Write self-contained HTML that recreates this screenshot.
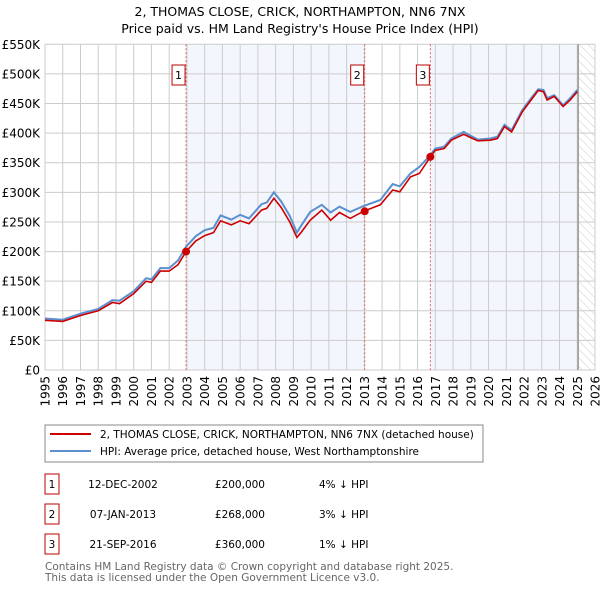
<!DOCTYPE html>
<html><head><meta charset="utf-8"><style>
body{margin:0;background:#fff;font-family:"DejaVu Sans","Liberation Sans",sans-serif;}
svg text{font-family:"DejaVu Sans","Liberation Sans",sans-serif;}
</style></head><body>
<svg id="c" width="600" height="590" xmlns="http://www.w3.org/2000/svg">
<defs><pattern id="hatch" width="6" height="6" patternUnits="userSpaceOnUse" patternTransform="rotate(-45)"><line x1="0" y1="0" x2="0" y2="6" stroke="#ccc" stroke-width="1"/></pattern></defs>
<text x="300" y="16" text-anchor="middle" font-size="12.5">2, THOMAS CLOSE, CRICK, NORTHAMPTON, NN6 7NX</text>
<text x="300" y="33" text-anchor="middle" font-size="12.5">Price paid vs. HM Land Registry's House Price Index (HPI)</text>
<g id="plot"></g>
<rect x="45" y="425" width="438" height="37" fill="#fff" stroke="#888"/>
<line x1="50" y1="434" x2="91" y2="434" stroke="#cc0000" stroke-width="2"/>
<text x="100" y="438" font-size="10.5">2, THOMAS CLOSE, CRICK, NORTHAMPTON, NN6 7NX (detached house)</text>
<line x1="50" y1="451" x2="91" y2="451" stroke="#5b8fd0" stroke-width="2"/>
<text x="100" y="455" font-size="10.5">HPI: Average price, detached house, West Northamptonshire</text>
<g id="tbl" font-size="10.5"></g>
<text x="45" y="570" font-size="10.5" fill="#666">Contains HM Land Registry data © Crown copyright and database right 2025.</text>
<text x="45" y="581" font-size="10.5" fill="#666">This data is licensed under the Open Government Licence v3.0.</text>
</svg>
<script>
const years=[1995,1996,1997,1998,1998.8,1999.2,2000,2000.7,2001,2001.5,2002,2002.5,2002.95,2003.5,2004,2004.5,2004.9,2005.5,2006,2006.5,2007.2,2007.5,2007.9,2008.3,2008.8,2009.2,2009.4,2009.95,2010.6,2011.1,2011.6,2012.2,2012.95,2013.9,2014.6,2015.0,2015.6,2016.1,2016.72,2017.0,2017.5,2017.9,2018.6,2019.1,2019.4,2020.1,2020.5,2020.9,2021.3,2021.9,2022.4,2022.8,2023.1,2023.3,2023.7,2024.2,2024.6,2025.0];
const hpi=[87,85,95,103,118,117,133,155,153,172,172,185,208,226,236,240,261,254,262,256,280,283,300,285,260,232,242,267,279,266,276,267,277,287,314,310,332,343,363,374,377,391,402,394,389,391,394,414,405,439,459,474,473,459,464,447,459,473];
const price=[84,82,92,100,114,112,129,150,148,167,167,178,200,218,227,232,252,245,252,247,270,273,290,275,250,224,231,253,270,253,266,256,268,279,304,301,326,332,360,371,374,388,398,391,387,388,391,411,402,436,456,472,470,456,462,445,456,470];
const saleYears=[2002.95,2013.02,2016.72];
const salePrices=[200,268,360];
const saleLabels=["1","2","3"];
const saleDates=["12-DEC-2002","07-JAN-2013","21-SEP-2016"];
const saleAmounts=["£200,000","£268,000","£360,000"];
const saleDiff=["4% ↓ HPI","3% ↓ HPI","1% ↓ HPI"];
const yTicks=[0,50,100,150,200,250,300,350,400,450,500,550];
const yTickLabels=["£0","£50K","£100K","£150K","£200K","£250K","£300K","£350K","£400K","£450K","£500K","£550K"];
const dataEnd=2025.05;

const X0=45,X1=595,Y0=370,Y1=44.3,xMin=1995,xMax=2026,yMax=550;
const sx=v=>X0+(v-xMin)/(xMax-xMin)*(X1-X0);
const sy=v=>Y0-(v/yMax)*(Y0-Y1);
const NS="http://www.w3.org/2000/svg";
const g=document.getElementById('plot');
function mk(t,a,p){const e=document.createElementNS(NS,t);for(const k in a)e.setAttribute(k,a[k]);(p||g).appendChild(e);return e;}
let r=mk('rect',{x:sx(saleYears[0]),y:Y1,width:sx(saleYears[1])-sx(saleYears[0]),height:Y0-Y1,fill:'#f3f6fd'});

r=mk('rect',{x:sx(saleYears[2]),y:Y1,width:sx(dataEnd)-sx(saleYears[2]),height:Y0-Y1,fill:'#f3f6fd'});

r=mk('rect',{x:sx(dataEnd),y:Y1,width:X1-sx(dataEnd),height:Y0-Y1,fill:'url(#hatch)'});

for(let i=0;i<yTicks.length;i++){
 const y=sy(yTicks[i]);
 let l=mk('line',{x1:X0,x2:X1,y1:y,y2:y,stroke:'#ccc'});
 
 let t=mk('text',{x:40,y:y+4.5,'text-anchor':'end','font-size':'12'});t.textContent=yTickLabels[i];
 
}
for(let yr=xMin;yr<=xMax;yr++){
 const x=sx(yr);
 let l=mk('line',{x1:x,x2:x,y1:Y1,y2:Y0,stroke:'#ccc'});
 
 let t=mk('text',{x:x+4.5,y:Y0+6,'font-size':'12','text-anchor':'end',transform:`rotate(-90 ${x+4.5} ${Y0+6})`});t.textContent=yr;
 
}
let dl=mk('line',{x1:sx(dataEnd),x2:sx(dataEnd),y1:Y1,y2:Y0,stroke:'#999','stroke-width':1.5});

for(let i=0;i<saleYears.length;i++){
 const x=sx(saleYears[i]);
 let l=mk('line',{x1:x,x2:x,y1:Y1,y2:Y0,stroke:'#e06060','stroke-dasharray':'2,2'});
 
 let b=mk('rect',{x:x-14,y:65,width:13,height:20,fill:'#fff',stroke:'#b00'});
 
 let t=mk('text',{x:x-7.5,y:79,'text-anchor':'middle','font-size':'11'});t.textContent=saleLabels[i];
 
}
const path=(arr)=>arr.map((v,i)=>(i?'L':'M')+sx(years[i]).toFixed(1)+','+sy(v).toFixed(1)).join('');
let ph=mk('path',{d:path(hpi),fill:'none',stroke:'#5b8fd0','stroke-width':2});

let pp=mk('path',{d:path(price),fill:'none',stroke:'#cc0000','stroke-width':1.6});

for(let i=0;i<saleYears.length;i++){
 let c=mk('circle',{cx:sx(saleYears[i]),cy:sy(salePrices[i]),r:4,fill:'#cc0000'});
 
}
const tb=document.getElementById('tbl');
const rowY=[484,514,544];
for(let i=0;i<saleYears.length;i++){
 const y=rowY[i];
 let b=mk('rect',{x:45,y:y-10,width:14,height:20,fill:'#fff',stroke:'#b00'},tb);
 
 const cells=[[52,'middle',saleLabels[i]],[123,'middle',saleDates[i]],[265,'end',saleAmounts[i]],[319,'start',saleDiff[i]]];
 for(const [cx,a,tx] of cells){
  let t=mk('text',{x:cx,y:y+4,'text-anchor':a},tb);t.textContent=tx;
  
 }
}
</script>
</body></html>
